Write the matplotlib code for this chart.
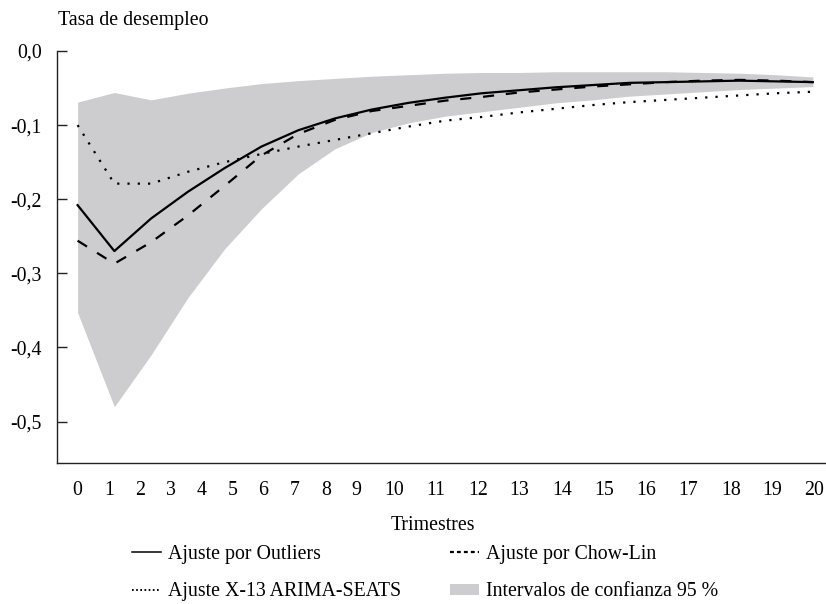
import matplotlib
matplotlib.use("Agg")
import matplotlib.pyplot as plt
from matplotlib.lines import Line2D
from matplotlib.patches import Patch

plt.rcParams['font.family'] = ['Liberation Serif', 'DejaVu Serif']
plt.rcParams['font.size'] = 14.3
plt.rcParams['lines.scale_dashes'] = False

# Trimestres 0..20
trimestres = list(range(21))

# Ajuste por Outliers (linea continua)
outliers = [-0.208, -0.270, -0.226, -0.190, -0.158, -0.129, -0.107, -0.091, -0.079, -0.070,
            -0.063, -0.057, -0.053, -0.049, -0.046, -0.043, -0.042, -0.041, -0.040, -0.041, -0.042]

# Ajuste por Chow-Lin (discontinua)
chow_lin = [-0.256, -0.287, -0.258, -0.222, -0.182, -0.141, -0.112, -0.093, -0.081, -0.074,
            -0.067, -0.062, -0.056, -0.052, -0.048, -0.045, -0.042, -0.040, -0.039, -0.040, -0.042]

# Ajuste X-13 ARIMA-SEATS (punteada)
x13 = [-0.100, -0.179, -0.179, -0.163, -0.150, -0.139, -0.129, -0.120, -0.111, -0.102,
       -0.094, -0.089, -0.083, -0.078, -0.073, -0.069, -0.066, -0.063, -0.060, -0.057, -0.055]

# Intervalos de confianza 95 %
ic_sup = [-0.069, -0.056, -0.066, -0.057, -0.050, -0.044, -0.040, -0.037, -0.034, -0.032,
          -0.030, -0.029, -0.029, -0.028, -0.028, -0.028, -0.028, -0.029, -0.030, -0.032, -0.035]
ic_inf = [-0.353, -0.480, -0.410, -0.333, -0.267, -0.213, -0.166, -0.132, -0.110, -0.097,
          -0.088, -0.082, -0.076, -0.070, -0.066, -0.061, -0.058, -0.055, -0.052, -0.050, -0.048]

# etiquetas del eje x (en el original no estan alineadas con los datos)
etiquetas_x = [str(t) for t in trimestres]
pos_etiquetas_x = [0.0, 0.85, 1.70, 2.53, 3.37, 4.22, 5.06, 5.91, 6.75, 7.58, 8.60,
                   9.74, 10.89, 12.02, 13.18, 14.33, 15.46, 16.61, 17.77, 18.89, 20.02]

valores_y = [0.0, -0.1, -0.2, -0.3, -0.4, -0.5]

gris = '#cdcdcf'

fig = plt.figure(figsize=(8.26, 6.04), dpi=100)
ax = fig.add_axes([57 / 826, 1 - 463 / 604, 768 / 826, 412 / 604])

ax.fill_between(trimestres, ic_inf, ic_sup, color=gris, linewidth=0, zorder=1)
ax.plot(trimestres, outliers, color='black', lw=1.6, zorder=3)
ax.plot(trimestres, chow_lin, color='black', lw=1.6, dashes=[8, 8.5], zorder=3)
ax.plot(trimestres, x13, color='black', lw=1.6, dashes=[1.6, 5.8], zorder=3)

ax.set_xlim(-0.56, 20.33)
ax.set_ylim(-0.556, 0.0)

ax.spines['top'].set_visible(False)
ax.spines['right'].set_visible(False)
for s in ['left', 'bottom']:
    ax.spines[s].set_linewidth(1.0)
    ax.spines[s].set_color('#222222')

ax.set_yticks(valores_y)
ax.set_yticklabels([f"{v:.1f}".replace('.', ',') for v in valores_y])
ax.tick_params(axis='y', direction='in', length=7, width=1, pad=11, colors='#222222',
               labelcolor='black')
ax.set_xticks(pos_etiquetas_x)
ax.set_xticklabels(etiquetas_x)
ax.tick_params(axis='x', length=0, pad=13)

fig.text(58 / 826, 1 - 25 / 604, "Tasa de desempleo", ha='left', va='baseline')
fig.text(433 / 826, 1 - 530 / 604, "Trimestres", ha='center', va='baseline')

handles = [
    Line2D([], [], color='black', lw=1.1),
    Line2D([], [], color='black', lw=1.4, dashes=[1.2, 1.8]),
    Line2D([], [], color='black', lw=1.6, dashes=[2.8, 2.2]),
    Patch(facecolor=gris, edgecolor='none'),
]
nombres = ["Ajuste por Outliers", "Ajuste X-13 ARIMA-SEATS",
           "Ajuste por Chow-Lin", "Intervalos de confianza 95 %"]
fig.legend(handles, nombres, ncol=2, loc='center', bbox_to_anchor=(425 / 826, 1 - 573 / 604),
           frameon=False, handlelength=1.46, handleheight=0.5, handletextpad=0.35,
           columnspacing=2.46, labelspacing=0.95, borderpad=0)

fig.savefig("out.png", dpi=100)
